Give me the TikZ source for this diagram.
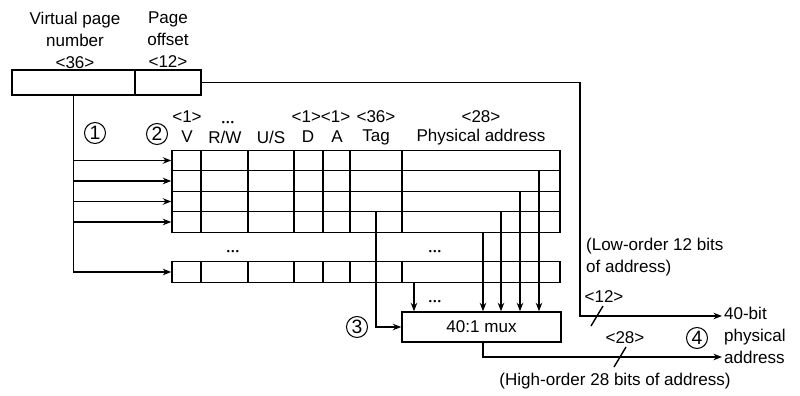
\documentclass[tikz,border=0pt]{standalone}
\usepackage{fontspec}
\setmainfont{Liberation Sans}
\usetikzlibrary{arrows.meta,positioning}
\tikzset{
  fld/.style  = {draw, thick, minimum height=5mm, inner sep=0pt},
  rowbox/.style = {draw, thick, minimum width=77.6mm, minimum height=4.1mm, inner sep=0pt},
  mux/.style  = {draw, thick, minimum width=31.8mm, minimum height=6mm, inner sep=0pt},
  circ/.style = {draw, circle, semithick, minimum size=4.2mm, inner sep=0pt,
                 font=\fontsize{11}{13}\selectfont},
  lbl/.style  = {align=center, inner sep=1pt},
  note/.style = {align=left, inner sep=1pt},
  dots/.style = {inner sep=1pt, font=\tiny},
  arr/.style  = {-{Stealth[length=1.7mm,width=1.3mm]}, thick},
  ln/.style   = {thick}
}
\newcommand{\bdots}{\textbullet\,\textbullet\,\textbullet}

\begin{document}
\begin{tikzpicture}[x=0.2mm,y=-0.2mm,font=\fontsize{9.7}{12.5}\selectfont]
  \useasboundingbox (0,0) rectangle (800,396);
  \node[fld, minimum width=24.6mm] (vpn) at (73.5,82.5) {};
  \node[fld, minimum width=13.2mm] (off) at (168,82.5) {};
  \node[lbl] (vpnl) at (75,40) {Virtual page\\number\\<36>};
  \node[lbl] (offl) at (168,40) {Page\\offset\\<12>};

  \foreach \i/\y in {1/160.5,2/181,3/201.5,4/222,5/272}
    \node[rowbox] (r\i) at (366,\y) {};
  \foreach \c in {201,248,294,323,350,402} {
    \draw[thick] (\c,0 |- r1.north) -- (\c,0 |- r4.south);
    \draw[thick] (\c,0 |- r5.north) -- (\c,0 |- r5.south);
  }

  \node[lbl] (hv)  at (187,137) {V};
  \node[lbl] (hrw) at (225,137) {R/W};
  \node[lbl] (hus) at (271,137) {U/S};
  \node[lbl] (hd)  at (308,137) {D};
  \node[lbl] (ha)  at (337,137) {A};
  \node[lbl] (htg) at (376,137) {Tag};
  \node[lbl] (hpa) at (481,137) {Physical address};
  \node[lbl] (sv)  at (187,117) {<1>};
  \node[lbl] (sda) at (321,117) {<1><1>};
  \node[lbl] (stg) at (376,117) {<36>};
  \node[lbl] (spa) at (481,117) {<28>};
  \node[dots] (drw) at (228,123) {\bdots};
  \node[dots] (d1)  at (233,252) {\bdots};
  \node[dots] (d2)  at (435,252) {\bdots};
  \node[dots] (d3)  at (435,302) {\bdots};

  \node[circ] (c1) at (95,133) {1};
  \node[circ] (c2) at (157,134) {2};
  \node[circ] (c3) at (357,327) {3};
  \node[circ] (c4) at (697,338) {4};

  \draw[arr] (vpn.south) |- (r5.west);
  \foreach \i in {1,...,4}
    \draw[arr] (vpn.south |- r\i.west) -- (r\i.west);

  \node[mux] (mx) at (481.5,327) {40:1 mux};
  \draw[arr] (376,0 |- r4.north) |- (mx.west);
  \draw[arr] (414,0 |- r5.south) -- (414,0 |- mx.north);
  \draw[arr] (483,0 |- r4.south) -- (483,0 |- mx.north);
  \draw[arr] (501,0 |- r4.north) -- (501,0 |- mx.north);
  \draw[arr] (520,0 |- r3.north) -- (520,0 |- mx.north);
  \draw[arr] (539,0 |- r2.north) -- (539,0 |- mx.north);

  \node[note, anchor=west] (pa) at (722,335) {40-bit\\physical\\address};
  \draw[arr] (off.east) -| (580,316) -- (pa.west |- 580,316);
  \draw[arr] (483,0 |- mx.south) |- (pa.west |- 483,357);
  \draw[ln] (591,326) -- (603,306);
  \draw[ln] (614,367) -- (626,347);
  \node[lbl] (n12) at (604,297) {<12>};
  \node[lbl] (n28) at (625,338) {<28>};
  \node[note, anchor=west] (lo) at (584,257) {(Low-order 12 bits\\of address)};
  \node[lbl] (hi) at (615,381) {(High-order 28 bits of address)};
\end{tikzpicture}
\end{document}
